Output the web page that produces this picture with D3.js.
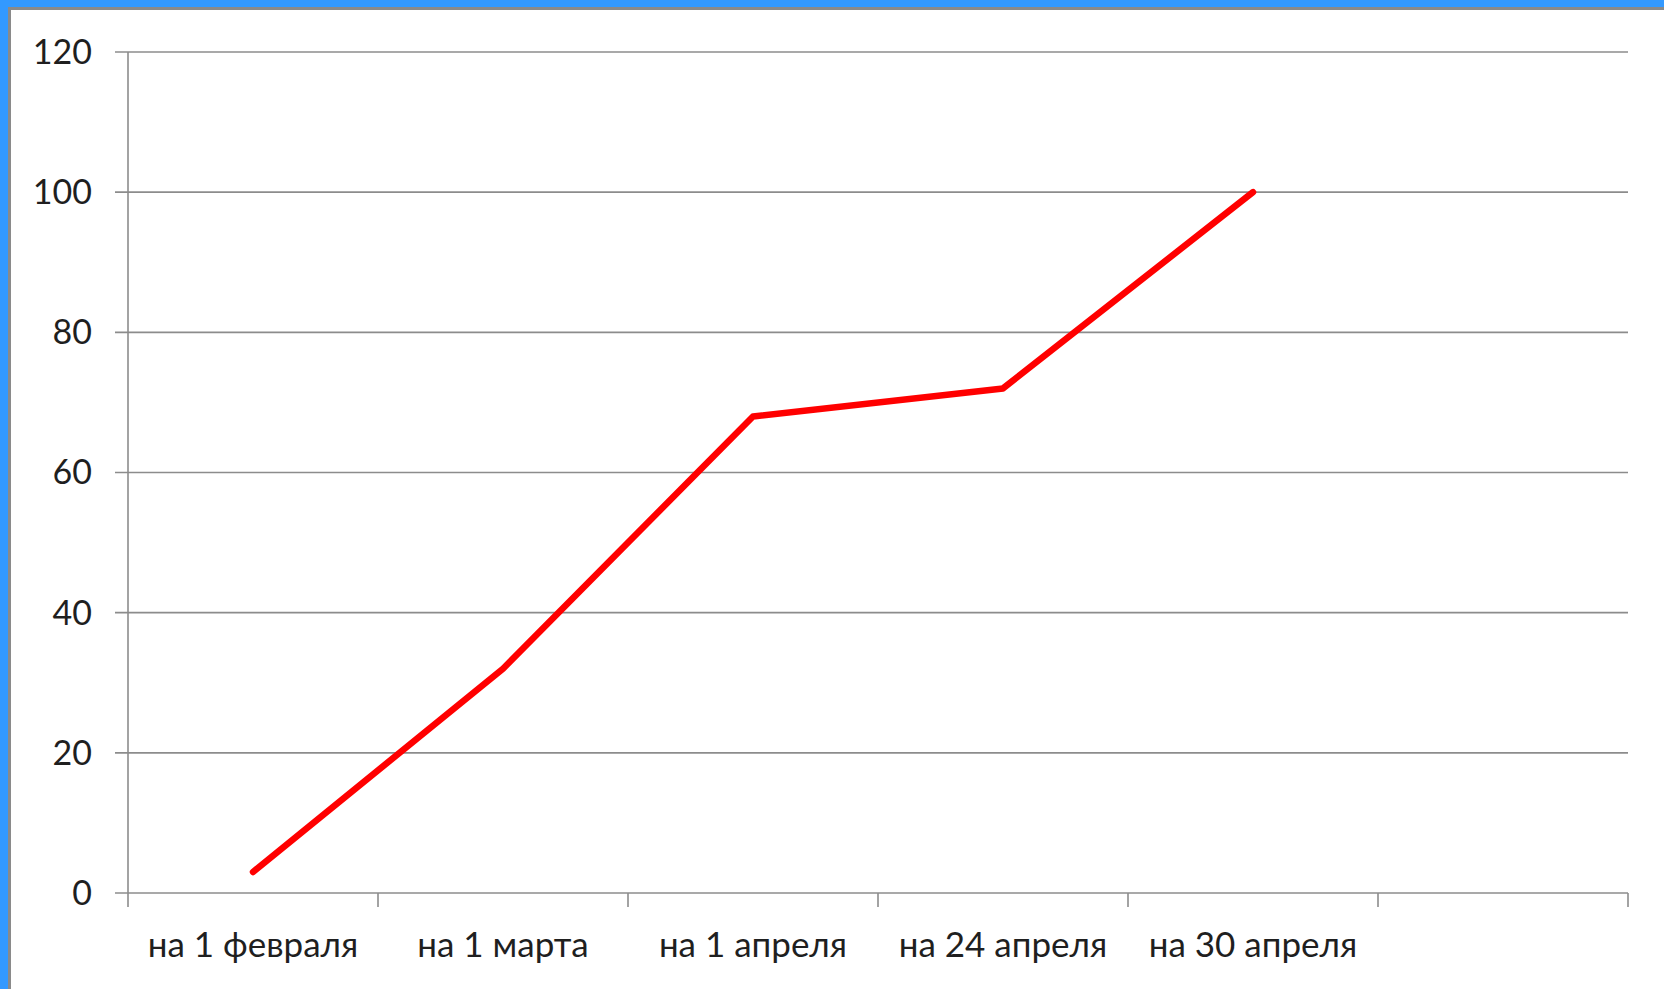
<!DOCTYPE html>
<html>
<head>
<meta charset="utf-8">
<script src="https://cdn.jsdelivr.net/npm/d3@7"></script>
<style>
    body { margin: 0; background: #fff; }
    text { font-family: Lato, "Open Sans", sans-serif; fill: #1f1f1f; }
</style>
</head>
<body>
<div id="chart"></div>
<script>
// categories (the last slot is empty, as in the original)
var categories = ["на 1 февраля", "на 1 марта", "на 1 апреля", "на 24 апреля", "на 30 апреля", ""];
var values = [3, 32, 68, 72, 100];
var yTicks = [0, 20, 40, 60, 80, 100, 120];

var width = 1664, height = 989;

var svg = d3.select("#chart")
    .append("svg")
    .attr("width", width)
    .attr("height", height);

// frame: blue top/left, thin grey inner edge, white panel
svg.append("rect").attr("width", width).attr("height", height).attr("fill", "#3399ff");
svg.append("rect").attr("x", 8).attr("y", 7).attr("width", width).attr("height", height).attr("fill", "#8a8a8a");
svg.append("rect").attr("x", 11).attr("y", 10).attr("width", width).attr("height", height).attr("fill", "#ffffff");

var plotLeft = 128, plotRight = 1628, plotTop = 52, plotBottom = 893;

var xScale = d3.scaleBand()
    .domain(d3.range(categories.length))
    .range([plotLeft, plotRight])
    .paddingInner(0)
    .paddingOuter(0);

var yScale = d3.scaleLinear()
    .domain([0, 120])
    .range([plotBottom, plotTop]);

var gridColor = "#8c8c8c";

// horizontal gridlines + y labels
svg.append("g")
    .selectAll("line")
    .data(yTicks)
    .enter().append("line")
    .attr("x1", plotLeft - 13)
    .attr("x2", plotRight)
    .attr("y1", function (d) { return yScale(d); })
    .attr("y2", function (d) { return yScale(d); })
    .attr("stroke", gridColor)
    .attr("stroke-width", 1.6);

svg.append("g")
    .selectAll("text")
    .data(yTicks)
    .enter().append("text")
    .attr("x", 92)
    .attr("y", function (d) { return yScale(d); })
    .attr("dy", "0.35em")
    .attr("text-anchor", "end")
    .style("font-size", "34px")
    .text(function (d) { return d; });

// y axis line
svg.append("line")
    .attr("x1", plotLeft).attr("x2", plotLeft)
    .attr("y1", plotTop).attr("y2", plotBottom)
    .attr("stroke", gridColor)
    .attr("stroke-width", 1.6);

// x tick marks on category boundaries
var bounds = d3.range(categories.length + 1);
svg.append("g")
    .selectAll("line")
    .data(bounds)
    .enter().append("line")
    .attr("x1", function (i) { return plotLeft + i * xScale.step(); })
    .attr("x2", function (i) { return plotLeft + i * xScale.step(); })
    .attr("y1", plotBottom)
    .attr("y2", plotBottom + 14)
    .attr("stroke", gridColor)
    .attr("stroke-width", 1.6);

// x labels
svg.append("g")
    .selectAll("text")
    .data(categories)
    .enter().append("text")
    .attr("x", function (d, i) { return xScale(i) + xScale.bandwidth() / 2; })
    .attr("y", 957)
    .attr("text-anchor", "middle")
    .style("font-size", "35px")
    .text(function (d) { return d; });

// the red line
var line = d3.line()
    .x(function (d, i) { return xScale(i) + xScale.bandwidth() / 2; })
    .y(function (d) { return yScale(d); });

svg.append("path")
    .datum(values)
    .attr("d", line)
    .attr("fill", "none")
    .attr("stroke", "#ff0000")
    .attr("stroke-width", 6.5)
    .attr("stroke-linejoin", "round")
    .attr("stroke-linecap", "round");
</script>
</body>
</html>
